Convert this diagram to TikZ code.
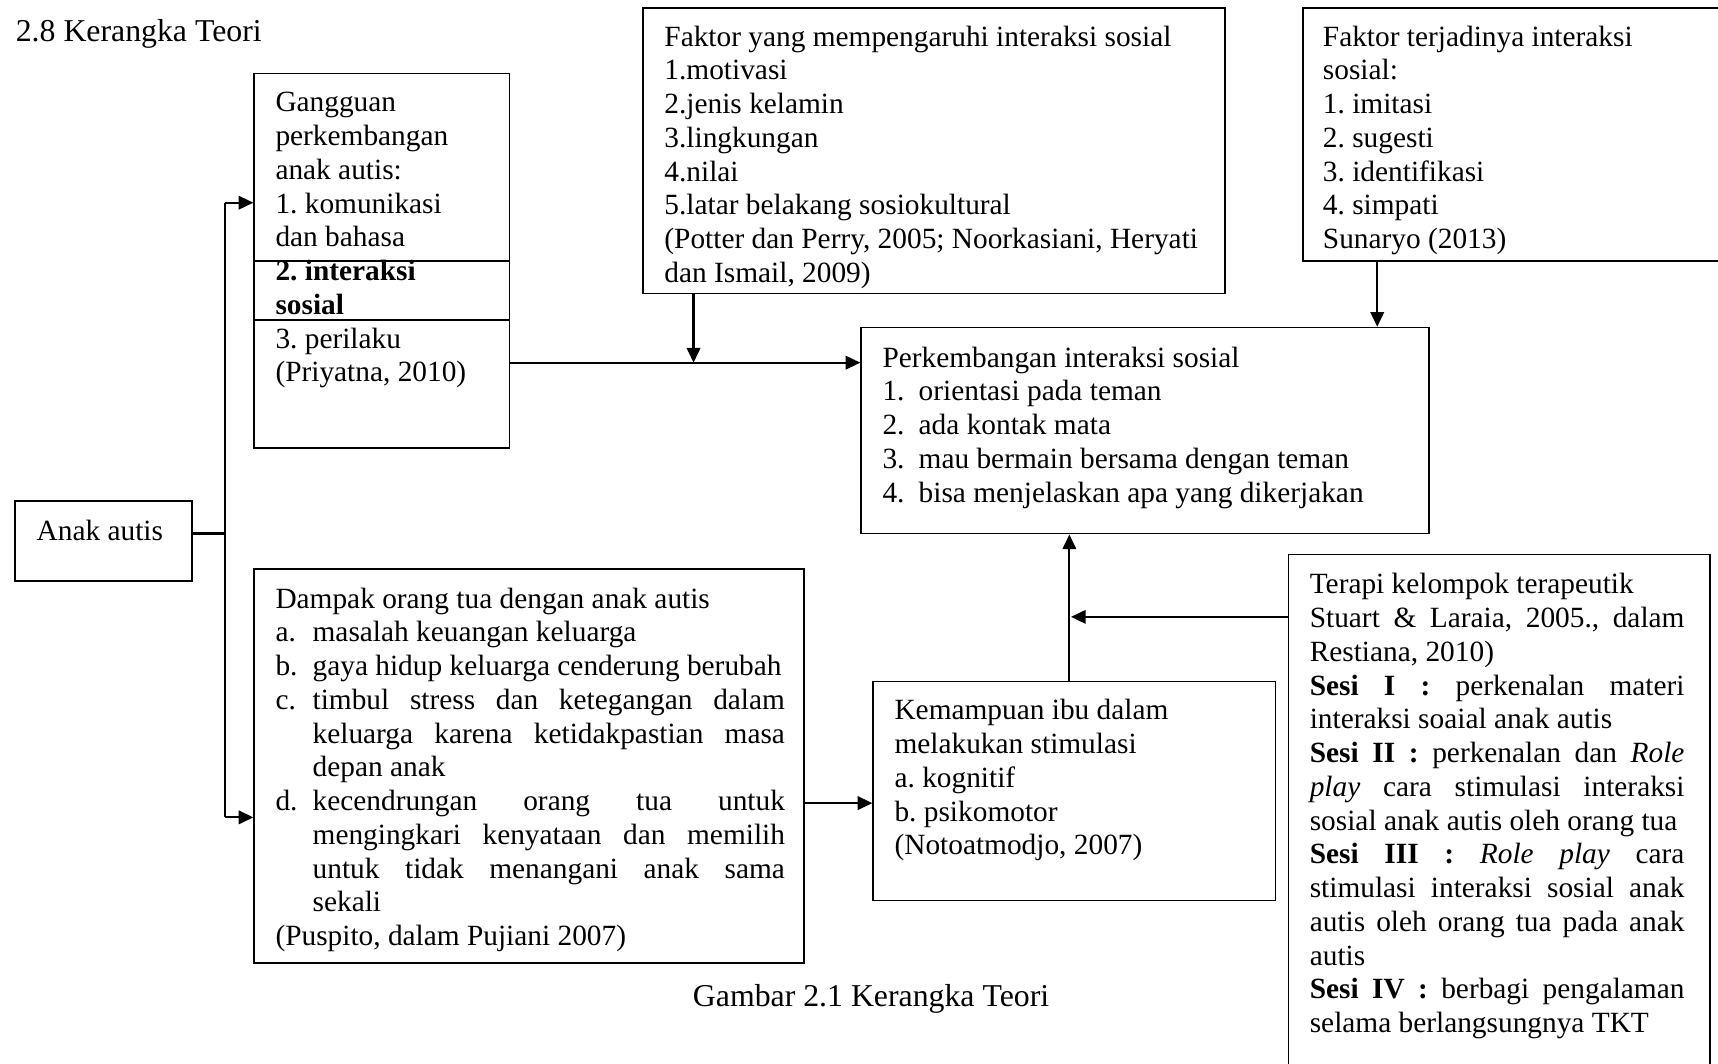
\documentclass[tikz,border=0pt]{standalone}
\usepackage{fontspec}
\setmainfont{Liberation Serif}
\usetikzlibrary{arrows.meta,fit}
\newcommand\resetsp{\spaceskip=0pt\relax\xspaceskip=0pt\relax}
\newcommand\J[2][\linewidth]{\makebox[#1][s]{\resetsp#2}}
\newcommand\lab[2][15.2pt]{\makebox[#1][l]{#2}}
\newcommand\ind{\hspace*{15.2pt}}
\frenchspacing
\begin{document}
\begin{tikzpicture}[x=0.448pt,y=-0.448pt,
  box/.style={draw, line width=0.7pt, inner sep=0pt},
  txt/.style={anchor=base west, inner sep=0pt, font=\fontsize{12pt}{13.8pt}\selectfont,
    execute at begin node={\raggedright\resetsp}},
  big/.style={anchor=base west, inner sep=0pt, font=\fontsize{13pt}{15pt}\selectfont,
    execute at begin node={\resetsp}},
  conn/.style={line width=0.9pt},
  arr/.style={conn, -{Triangle[length=6pt,width=5.5pt]}}]
\useasboundingbox (0,0) rectangle (1568,971);
\clip (0,0) rectangle (1568,971);
\fill[white] (0,0) rectangle (1568,971);

% boxes
\node[box, fit={(14,457) (175,530)}] (anak) {};
\node[box, fit={(232,67) (465,409)}] (gang) {};
\node[box, fit={(587,7) (1118,268)}] (faktor) {};
\node[box, fit={(1189,7) (1620,238)}] (terj) {};
\node[box, fit={(786,299) (1304,487)}] (perk) {};
\node[box, fit={(232,519) (734,879)}] (dampak) {};
\node[box, fit={(797,622) (1164,822)}] (kem) {};
\node[box, fit={(1176,506) (1561,1010)}] (terapi) {};

% rules inside Gangguan box
\coordinate (h1) at (0,238);
\coordinate (h2) at (0,292);
\draw[line width=0.7pt] (gang.west |- h1) -- (gang.east |- h1);
\draw[line width=0.7pt] (gang.west |- h2) -- (gang.east |- h2);

% texts
\node[big] (title) at (14,38) {2.8 Kerangka Teori};
\node[big] (caption) at (632,919) {Gambar 2.1 Kerangka Teori};

\node[txt, text width=70pt] (anakT) at (33,493) {Anak autis};

\node[txt, text width=96pt] (gangT) at (251,102) {Gangguan\\perkembangan\\anak autis:\\1. komunikasi\\dan bahasa\\\textbf{2. interaksi}\\\textbf{sosial}\\3. perilaku\\(Priyatna, 2010)};

\node[txt, text width=232pt] (faktorT) at (606,42) {Faktor yang mempengaruhi interaksi sosial\\1.motivasi\\2.jenis kelamin\\3.lingkungan\\4.nilai\\5.latar belakang sosiokultural\\(Potter dan Perry, 2005; Noorkasiani, Heryati\\dan Ismail, 2009)};

\node[txt, text width=160pt] (terjT) at (1207,42) {Faktor terjadinya interaksi\\sosial:\\1. imitasi\\2. sugesti\\3. identifikasi\\4. simpati\\Sunaryo (2013)};

\node[txt, text width=225pt] (perkT) at (805,335) {Perkembangan interaksi sosial\\\lab[14.8pt]{1.}orientasi pada teman\\\lab[14.8pt]{2.}ada kontak mata\\\lab[14.8pt]{3.}mau bermain bersama dengan teman\\\lab[14.8pt]{4.}bisa menjelaskan apa yang dikerjakan};

\node[txt, text width=208.3pt] (dampakT) at (251,555) {Dampak orang tua dengan anak autis\\
\lab{a.}masalah keuangan keluarga\\
\lab{b.}gaya hidup keluarga cenderung berubah\\
\lab{c.}\J[193.1pt]{timbul stress dan ketegangan dalam}\\
\ind\J[193.1pt]{keluarga karena ketidakpastian masa}\\
\ind depan anak\\
\lab{d.}\J[193.1pt]{kecendrungan orang tua untuk}\\
\ind\J[193.1pt]{mengingkari kenyataan dan memilih}\\
\ind\J[193.1pt]{untuk tidak menangani anak sama}\\
\ind sekali\\
(Puspito, dalam Pujiani 2007)};

\node[txt, text width=150pt] (kemT) at (816,657) {Kemampuan ibu dalam\\melakukan stimulasi\\a. kognitif\\b. psikomotor\\(Notoatmodjo, 2007)};

\node[txt, text width=153.2pt] (terapiT) at (1195,542) {Terapi kelompok terapeutik\\
\J{Stuart \& Laraia, 2005., dalam}\\
Restiana, 2010)\\
\J{\textbf{Sesi I :} perkenalan materi}\\
interaksi soaial anak autis\\
\J{\textbf{Sesi II :} perkenalan dan \textit{Role}}\\
\J{\textit{play} cara stimulasi interaksi}\\
sosial anak autis oleh orang tua\\
\J{\textbf{Sesi III :} \textit{Role play} cara}\\
\J{stimulasi interaksi sosial anak}\\
\J{autis oleh orang tua pada anak}\\
autis\\
\J{\textbf{Sesi IV :} berbagi pengalaman}\\
selama berlangsungnya TKT};

% connectors
\coordinate (ja) at (205,487);
\coordinate (jt) at (205,185);
\coordinate (jb) at (205,746);
\draw[conn] (anak.east |- ja) -- (ja);
\draw[conn] (jt) -- (jb);
\draw[arr] (jt) -- (jt -| gang.west);
\draw[arr] (jb) -- (jb -| dampak.west);

\coordinate (m1) at (633,331);
\draw[arr] (gang.east |- m1) -- (perk.west |- m1);
\draw[arr] (faktor.south -| m1) -- (m1);

\coordinate (m4) at (1257,0);
\draw[arr] (terj.south -| m4) -- (perk.north -| m4);

\coordinate (m2) at (0,733);
\draw[arr] (dampak.east |- m2) -- (kem.west |- m2);

\coordinate (m5) at (976,0);
\draw[arr] (kem.north -| m5) -- (perk.south -| m5);

\coordinate (m3) at (977.5,563);
\draw[arr] (terapi.west |- m3) -- (m3);
\end{tikzpicture}
\end{document}
